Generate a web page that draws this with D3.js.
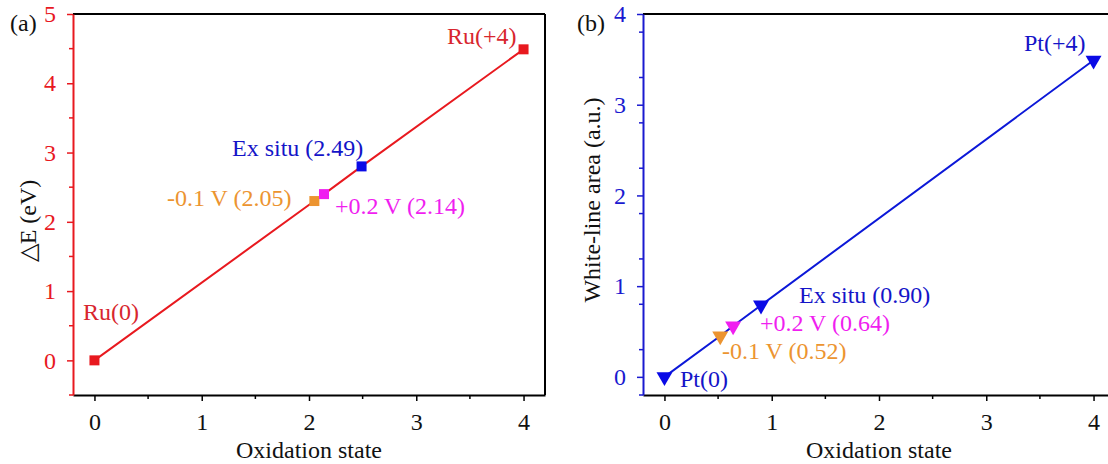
<!DOCTYPE html>
<html>
<head>
<meta charset="utf-8">
<script src="https://cdn.jsdelivr.net/npm/d3@7"></script>
<style>
  body { margin: 0; background: #fff; }
  svg text { font-family: "Liberation Serif", "Times New Roman", serif !important; }
</style>
</head>
<body>
<svg id="chart" width="1108" height="464"></svg>
<script>
// Panel (a): Ru, delta E vs oxidation state
const ruLabels = ["Ru(0)", "-0.1 V (2.05)", "+0.2 V (2.14)", "Ex situ (2.49)", "Ru(+4)"];
const ruOx = [0, 2.05, 2.14, 2.49, 4];
const ruDeltaE = [0, 2.30, 2.40, 2.80, 4.49];

// Panel (b): Pt, white-line area vs oxidation state
const ptLabels = ["Pt(0)", "-0.1 V (0.52)", "+0.2 V (0.64)", "Ex situ (0.90)", "Pt(+4)"];
const ptOx = [0, 0.52, 0.64, 0.90, 4];
const ptArea = [0, 0.45, 0.56, 0.79, 3.49];

const xTicks = [0, 1, 2, 3, 4];
const ruYTicks = [0, 1, 2, 3, 4, 5];
const ptYTicks = [0, 1, 2, 3, 4];

const RED = "#e8191f", BLUE = "#0a0ae6", MAGENTA = "#f01ef0", ORANGE = "#ec9430";
const FS = 24;
const svg = d3.select("#chart");

function drawPanel(opt) {
  const x = d3.scaleLinear().domain([-0.2, 4.2]).range([opt.left, opt.left + 472]);
  const y = d3.scaleLinear().domain(opt.yDomain).range([395, 14]);
  const g = svg.append("g");

  // frame: top and right in black
  g.append("line").attr("x1", x.range()[0]).attr("x2", x.range()[1])
    .attr("y1", 14).attr("y2", 14).attr("stroke", "#000").attr("stroke-width", 2);
  g.append("line").attr("x1", x.range()[1]).attr("x2", x.range()[1])
    .attr("y1", 14).attr("y2", 395).attr("stroke", "#000").attr("stroke-width", 2);

  // bottom axis
  const minorX = [0.5, 1.5, 2.5, 3.5];
  const xAxis = g.append("g").attr("transform", "translate(0,395)")
    .call(d3.axisBottom(x).tickValues(xTicks).tickFormat(d3.format("d")).tickSize(6).tickSizeOuter(0).tickPadding(12));
  xAxis.selectAll("line.minor").data(minorX).enter().append("line")
    .attr("class", "minor")
    .attr("x1", d => x(d)).attr("x2", d => x(d)).attr("y1", 0).attr("y2", 4)
    .attr("stroke", "#000").attr("stroke-width", 1.5);
  xAxis.select(".domain").attr("stroke", "#000").attr("stroke-width", 2);
  xAxis.selectAll(".tick line").attr("stroke-width", 1.5);
  xAxis.selectAll("text").attr("font-size", FS).attr("fill", "#111");

  // left axis (coloured)
  const minorY = d3.range(opt.yDomain[0], opt.yDomain[1] + 0.01, 0.5).filter(v => Math.abs(v % 1) > 0.01);
  const yAxis = g.append("g").attr("transform", `translate(${x.range()[0]},0)`)
    .call(d3.axisLeft(y).tickValues(opt.yTicks).tickFormat(d3.format("d")).tickSize(6).tickSizeOuter(0).tickPadding(11));
  yAxis.selectAll("line.minor").data(minorY).enter().append("line")
    .attr("class", "minor")
    .attr("x1", 0).attr("x2", -4).attr("y1", d => y(d)).attr("y2", d => y(d))
    .attr("stroke", opt.axisColor).attr("stroke-width", 1.5);
  yAxis.select(".domain").attr("stroke", opt.axisColor).attr("stroke-width", 2);
  yAxis.selectAll(".tick line").attr("stroke", opt.axisColor).attr("stroke-width", 1.5);
  yAxis.selectAll("text").attr("font-size", FS).attr("fill", opt.axisColor);

  // axis titles
  g.append("text").attr("x", (x.range()[0] + x.range()[1]) / 2).attr("y", 458)
    .attr("text-anchor", "middle").attr("font-size", FS).attr("fill", "#111").text("Oxidation state");
  g.append("text").attr("transform", `translate(${opt.yTitleX},${opt.yTitleY}) rotate(-90)`)
    .attr("text-anchor", "middle").attr("font-size", FS).attr("fill", "#111").text(opt.yTitle);

  // panel letter
  g.append("text").attr("x", opt.letterX).attr("y", 31).attr("font-size", FS).attr("fill", "#111").text(opt.letter);

  // fit line
  const pts = opt.xs.map((v, i) => [v, opt.ys[i]]);
  g.append("path").datum(pts)
    .attr("d", d3.line().x(d => x(d[0])).y(d => y(d[1])))
    .attr("fill", "none").attr("stroke", opt.lineColor).attr("stroke-width", 2);

  // markers
  g.selectAll("path.mk").data(pts).enter().append("path")
    .attr("class", "mk")
    .attr("transform", d => `translate(${x(d[0])},${y(d[1])})${opt.markerRotate}`)
    .attr("d", opt.marker)
    .attr("fill", (d, i) => opt.markerColors[i]);

  // annotations
  g.selectAll("text.ann").data(opt.labels).enter().append("text")
    .attr("class", "ann")
    .attr("x", (d, i) => opt.labelPos[i][0]).attr("y", (d, i) => opt.labelPos[i][1])
    .attr("font-size", FS).attr("fill", (d, i) => opt.labelColors[i])
    .text(d => d);
}

drawPanel({
  left: 73, yDomain: [-0.5, 5], yTicks: ruYTicks, axisColor: RED,
  yTitle: "\u25B3E (eV)", yTitleX: 36, yTitleY: 221,
  letter: "(a)", letterX: 10,
  xs: ruOx, ys: ruDeltaE, lineColor: RED,
  marker: d3.symbol().type(d3.symbolSquare).size(100)(), markerRotate: "",
  markerColors: [RED, ORANGE, MAGENTA, BLUE, RED],
  labels: ruLabels,
  labelPos: [[83, 320], [167, 206], [335, 214], [232, 156], [447, 44]],
  labelColors: ["#d8262e", ORANGE, MAGENTA, "#1414c8", "#d8262e"]
});

drawPanel({
  left: 643, yDomain: [-0.2, 4], yTicks: ptYTicks, axisColor: "#1a1ad0",
  yTitle: "White-line area (a.u.)", yTitleX: 600, yTitleY: 200,
  letter: "(b)", letterX: 577,
  xs: ptOx, ys: ptArea, lineColor: "#0c18d8",
  marker: d3.symbol().type(d3.symbolTriangle).size(110)(), markerRotate: " rotate(180)",
  markerColors: [BLUE, ORANGE, MAGENTA, BLUE, BLUE],
  labels: ptLabels,
  labelPos: [[680, 387], [722, 359], [760, 331], [799, 303], [1024, 51]],
  labelColors: ["#1414c8", ORANGE, MAGENTA, "#1414c8", "#1414c8"]
});
</script>
</body>
</html>
